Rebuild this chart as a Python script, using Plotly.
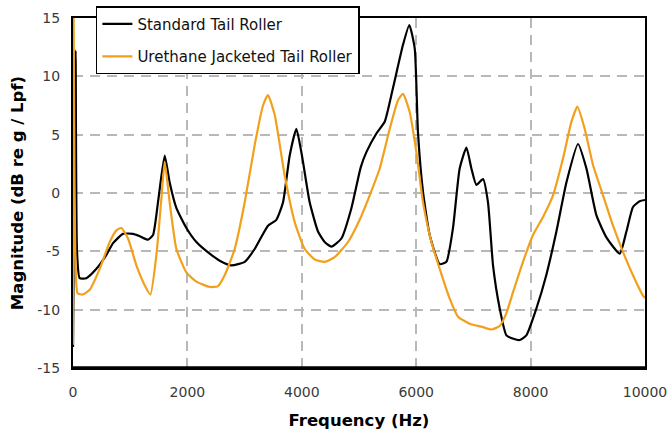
import plotly.graph_objects as go

# ---- Data ----
freq_standard = [0, 20, 45, 70, 117, 234, 409, 584, 700, 875, 1049, 1166, 1311, 1399, 1486,
                 1603, 1690, 1808, 1982, 2157, 2390, 2565, 2769, 3002, 3176, 3409, 3555,
                 3672, 3788, 3905, 4003, 4138, 4283, 4400, 4517, 4692, 4867, 5030, 5129,
                 5304, 5449, 5594, 5769, 5880, 5974, 6031, 6119, 6236, 6411, 6528, 6643,
                 6760, 6878, 6965, 7052, 7168, 7255, 7343, 7460, 7577, 7700, 7810, 7926,
                 8101, 8276, 8451, 8626, 8829, 8976, 9150, 9325, 9558, 9675, 9790, 9907, 10000]
mag_standard = [-13.2, 0.0, 12.2, -5.0, -7.3, -7.3, -6.5, -5.3, -4.3, -3.5, -3.5, -3.7, -4.0,
                -3.6, -0.8, 3.2, 0.9, -1.3, -3.0, -4.2, -5.2, -5.8, -6.2, -5.9, -4.8, -2.8,
                -2.3, -0.8, 3.2, 5.5, 3.2, -0.8, -3.3, -4.2, -4.6, -3.9, -1.3, 2.2, 3.5,
                5.1, 6.1, 9.0, 12.7, 14.4, 12.4, 5.2, 0.1, -3.6, -6.1, -5.9, -3.0, 2.1,
                3.9, 2.1, 0.7, 1.2, -0.8, -6.2, -9.9, -12.2, -12.5, -12.6, -12.2, -9.9,
                -7.0, -3.3, 0.9, 4.2, 2.1, -1.9, -3.8, -5.2, -3.3, -1.2, -0.7, -0.6]

freq_urethane = [0, 10, 25, 45, 80, 170, 292, 467, 642, 759, 846, 962, 1108, 1253, 1353,
                 1458, 1545, 1603, 1690, 1808, 1982, 2157, 2390, 2530, 2652, 2827, 3002,
                 3176, 3322, 3409, 3526, 3701, 3876, 4051, 4226, 4400, 4575, 4808, 5020,
                 5187, 5362, 5537, 5682, 5769, 5886, 6003, 6119, 6266, 6411, 6586, 6731,
                 6935, 7168, 7314, 7460, 7577, 7693, 7867, 8042, 8217, 8392, 8566, 8713,
                 8818, 8946, 9091, 9266, 9441, 9615, 9790, 9965, 10000]
mag_urethane = [-13.0, 16.0, 2.0, -6.0, -8.6, -8.7, -8.3, -6.5, -4.2, -3.2, -3.0, -3.9, -6.2,
                -7.9, -8.7, -5.3, -0.5, 2.7, -0.8, -4.8, -6.8, -7.6, -8.05, -8.0, -7.05,
                -4.8, -0.8, 4.1, 7.5, 8.4, 6.7, 1.5, -2.5, -4.8, -5.7, -5.9, -5.5, -4.2,
                -2.2, -0.2, 2.1, 5.5, 7.95, 8.5, 6.95, 3.5, -0.8, -4.2, -6.5, -9.05, -10.6,
                -11.2, -11.5, -11.7, -11.4, -10.3, -8.5, -5.9, -3.6, -2.05, -0.2, 2.95,
                6.1, 7.4, 5.5, 2.4, -0.2, -2.8, -5.05, -7.05, -8.8, -9.0]

x_ticks = [0, 2000, 4000, 6000, 8000, 10000]
y_ticks = [-15, -10, -5, 0, 5, 10, 15]

series_names = ["Standard Tail Roller", "Urethane Jacketed Tail Roller"]
series_colors = ["#000000", "#F2A01C"]

FONT = "DejaVu Sans"

fig = go.Figure()
fig.add_trace(go.Scatter(x=freq_standard, y=mag_standard, mode="lines",
                         name=series_names[0], legendgroup="a",
                         line=dict(color=series_colors[0], width=2.2,
                                   shape="spline", smoothing=0.5)))
fig.add_trace(go.Scatter(x=freq_urethane, y=mag_urethane, mode="lines",
                         name=series_names[1], legendgroup="b",
                         line=dict(color=series_colors[1], width=2.2,
                                   shape="spline", smoothing=0.5)))

grid = dict(showgrid=True, gridcolor="#b8b8b8", gridwidth=1.5, griddash="10px,7px",
            zeroline=False, showline=True, linecolor="black", linewidth=2, mirror=True,
            ticks="", automargin=False, ticklabeloverflow="allow",
            tickfont=dict(family=FONT, size=14, color="#3a3a3a"))

fig.update_xaxes(range=[0, 10000], tickvals=x_ticks, ticktext=[str(v) for v in x_ticks],
                 ticklabelstandoff=10,
                 title=dict(text="Frequency (Hz)", standoff=16,
                            font=dict(family=FONT, size=16.5, color="black", weight="bold")),
                 **grid)
fig.update_yaxes(range=[-15, 15], tickvals=y_ticks, ticktext=[str(v) for v in y_ticks],
                 ticklabelstandoff=8,
                 title=dict(text="Magnitude (dB re g / Lpf)", standoff=10,
                            font=dict(family=FONT, size=16.5, color="black", weight="bold")),
                 **grid)

fig.update_layout(
    width=667, height=439,
    margin=dict(l=73, r=22, t=18, b=71, autoexpand=False),
    plot_bgcolor="white", paper_bgcolor="white",
    showlegend=True,
    legend=dict(x=0.04, y=1.034, xanchor="left", yanchor="top",
                bgcolor="white", bordercolor="black", borderwidth=1.5,
                tracegroupgap=10, traceorder="grouped",
                font=dict(family=FONT, size=15, color="#111111")),
    shapes=[dict(type="line", xref="paper", yref="paper", x0=0, x1=1, y0=0, y1=0,
                 line=dict(color="black", width=3.5))],
)

fig.write_html("out.html",
               config={"displayModeBar": False},
               post_script="document.body.style.margin='0px';"
                           "document.body.style.overflow='hidden';")
